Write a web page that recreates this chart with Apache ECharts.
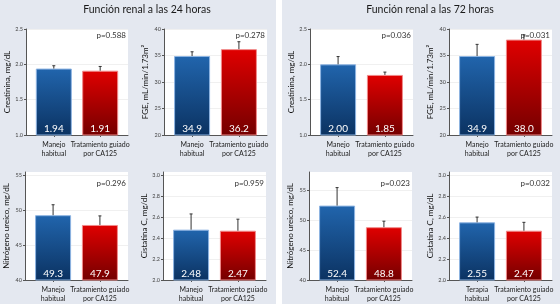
<!DOCTYPE html>
<html>
<head>
<meta charset="utf-8">
<script src="https://cdn.jsdelivr.net/npm/echarts@6/dist/echarts.min.js"></script>
<style>
html, body { margin: 0; padding: 0; }
#container { width: 560px; height: 304px; }
</style>
</head>
<body>
<div id="container"></div>
<script>
// categories
const catsManejo = ['Manejo\nhabitual', 'Tratamiento guiado\npor CA125'];
const catsTerapia = ['Terapia\nhabitual', 'Tratamiento guiado\npor CA125'];

// 24 horas: means and upper end of error bars
const creat24 = [1.94, 1.91];
const creat24Err = [1.98, 1.97];
const fge24 = [34.9, 36.2];
const fge24Err = [35.7, 37.6];
const bun24 = [49.3, 47.9];
const bun24Err = [50.8, 49.2];
const cys24 = [2.48, 2.47];
const cys24Err = [2.63, 2.58];

// 72 horas
const creat72 = [2.00, 1.85];
const creat72Err = [2.11, 1.89];
const fge72 = [34.9, 38.0];
const fge72Err = [37.1, 38.9];
const bun72 = [52.4, 48.8];
const bun72Err = [55.4, 49.8];
const cys72 = [2.55, 2.47];
const cys72Err = [2.60, 2.55];

const pValues = ['p=0.588', 'p=0.278', 'p=0.296', 'p=0.959', 'p=0.036', 'p=0.031', 'p=0.023', 'p=0.032'];

// tick labels
const creatTicks = [1.0, 1.5, 2.0, 2.5];
const fgeTicks = [20, 25, 30, 35, 40];
const bunTicks = [40, 45, 50, 55];
const cysTicks = [2.0, 2.2, 2.4, 2.6, 2.8, 3.0];

const titles = ['Función renal a las 24 horas', 'Función renal a las 72 horas'];

// panel definitions (layout kept separate from values)
var panels = [
    {cats: catsManejo, vals: creat24, err: creat24Err, p: pValues[0], name: 'Creatinina, mg/dL', ticks: creatTicks, min: 1.0, max: 2.5, box: [26, 29, 102, 106], pDy: 6},
    {cats: catsManejo, vals: fge24, err: fge24Err, p: pValues[1], name: 'FGE, mL/min/1.73m²', ticks: fgeTicks, min: 20, max: 40, box: [164, 29, 103, 106], pDy: 6},
    {cats: catsManejo, vals: bun24, err: bun24Err, p: pValues[2], name: 'Nitrógeno ureico, mg/dL', ticks: bunTicks, min: 40, max: 55.5, box: [25, 172, 103, 108], pDy: 11},
    {cats: catsManejo, vals: cys24, err: cys24Err, p: pValues[3], name: 'Cistatina C, mg/dL', ticks: cysTicks, min: 2.0, max: 3.03, box: [163, 172, 103, 108], pDy: 11},
    {cats: catsManejo, vals: creat72, err: creat72Err, p: pValues[4], name: 'Creatinina, mg/dL', ticks: creatTicks, min: 1.0, max: 2.5, box: [310, 29, 103, 106], pDy: 6},
    {cats: catsManejo, vals: fge72, err: fge72Err, p: pValues[5], name: 'FGE, mL/min/1.73m²', ticks: fgeTicks, min: 20, max: 40, box: [449, 29, 103, 106], pDy: 6},
    {cats: catsManejo, vals: bun72, err: bun72Err, p: pValues[6], name: 'Nitrógeno ureico, mg/dL', ticks: bunTicks, min: 40, max: 58, box: [309, 172, 103, 108], pDy: 11},
    {cats: catsTerapia, vals: cys72, err: cys72Err, p: pValues[7], name: 'Cistatina C, mg/dL', ticks: cysTicks, min: 2.0, max: 3.03, box: [449, 172, 103, 108], pDy: 11}
];

var FONT = 'Lato';
var blueFill = new echarts.graphic.LinearGradient(0, 0, 0, 1, [
    {offset: 0, color: '#2165ad'}, {offset: 1, color: '#0b3261'}]);
var redFill = new echarts.graphic.LinearGradient(0, 0, 0, 1, [
    {offset: 0, color: '#e00000'}, {offset: 1, color: '#740000'}]);

var grids = [], xAxes = [], yAxes = [], series = [], graphics = [];

// white separator between the two panels
graphics.push({type: 'rect', shape: {x: 276, y: 0, width: 6, height: 304}, style: {fill: '#ffffff'}});
graphics.push({type: 'text', x: 147, y: 10, style: {text: titles[0], font: '10.5px ' + FONT, fill: '#1a1a1a', align: 'center', verticalAlign: 'middle'}});
graphics.push({type: 'text', x: 430, y: 10, style: {text: titles[1], font: '10.5px ' + FONT, fill: '#1a1a1a', align: 'center', verticalAlign: 'middle'}});

panels.forEach(function (pn, i) {
    var b = pn.box;
    var dec = pn.max < 10 ? 2 : 1;
    grids.push({left: b[0], top: b[1], width: b[2], height: b[3], show: true,
        backgroundColor: '#ffffff', borderWidth: 0, containLabel: false});
    xAxes.push({type: 'value', gridIndex: i, min: 0.4, max: 2.6,
        axisLine: {lineStyle: {color: '#555', width: 1}},
        axisTick: {customValues: [1, 2], length: 2, lineStyle: {color: '#555'}},
        axisLabel: {customValues: [1, 2], fontFamily: FONT, fontSize: 7, color: '#222', lineHeight: 9, margin: 5,
            formatter: function (v) { return pn.cats[Math.round(v) - 1]; }},
        splitLine: {show: false}});
    yAxes.push({type: 'value', gridIndex: i, min: pn.min, max: pn.max,
        name: pn.name, nameLocation: 'middle', nameGap: 15,
        nameTextStyle: {fontFamily: FONT, fontSize: 8, color: '#111'},
        axisLine: {show: true, lineStyle: {color: '#555', width: 1}},
        axisTick: {show: true, customValues: pn.ticks, length: 2, lineStyle: {color: '#555'}},
        axisLabel: {customValues: pn.ticks, fontFamily: FONT, fontSize: 5.5, color: '#444', margin: 3,
            formatter: function (v) { return pn.max < 10 ? v.toFixed(1) : String(v); }},
        splitLine: {show: true, lineStyle: {color: '#f0f0f0', width: 1}}});
    series.push({type: 'bar', xAxisIndex: i, yAxisIndex: i, barWidth: 36,
        data: pn.vals.map(function (v, k) {
            return {value: [k + 1, v], itemStyle: {color: k === 0 ? blueFill : redFill,
                borderColor: k === 0 ? '#8db4e2' : '#f08a8a', borderWidth: 1}};
        }),
        label: {show: true, position: 'insideBottom', distance: 2, color: '#fff',
            fontFamily: FONT, fontSize: 10,
            formatter: function (p) { return p.value[1].toFixed(dec); }},
        animation: false});
    series.push({type: 'custom', xAxisIndex: i, yAxisIndex: i, z: 5,
        data: pn.vals.map(function (v, k) { return [k + 1, v, pn.err[k]]; }),
        renderItem: function (params, api) {
            var base = api.coord([api.value(0), api.value(1)]);
            var top = api.coord([api.value(0), api.value(2)]);
            var st = {stroke: '#333', lineWidth: 1};
            return {type: 'group', children: [
                {type: 'line', shape: {x1: base[0], y1: base[1], x2: top[0], y2: top[1]}, style: st},
                {type: 'line', shape: {x1: top[0] - 1.5, y1: top[1], x2: top[0] + 1.5, y2: top[1]}, style: st}
            ]};
        },
        animation: false});
    graphics.push({type: 'text', x: b[0] + b[2] - 2, y: b[1] + pn.pDy,
        style: {text: pn.p, font: '8px ' + FONT, fill: '#333', align: 'right', verticalAlign: 'middle'}, z: 10});
});

var chart = echarts.init(document.getElementById('container'));
chart.setOption({
    backgroundColor: '#e4e8f0',
    animation: false,
    grid: grids,
    xAxis: xAxes,
    yAxis: yAxes,
    series: series,
    graphic: graphics
});
</script>
</body>
</html>
